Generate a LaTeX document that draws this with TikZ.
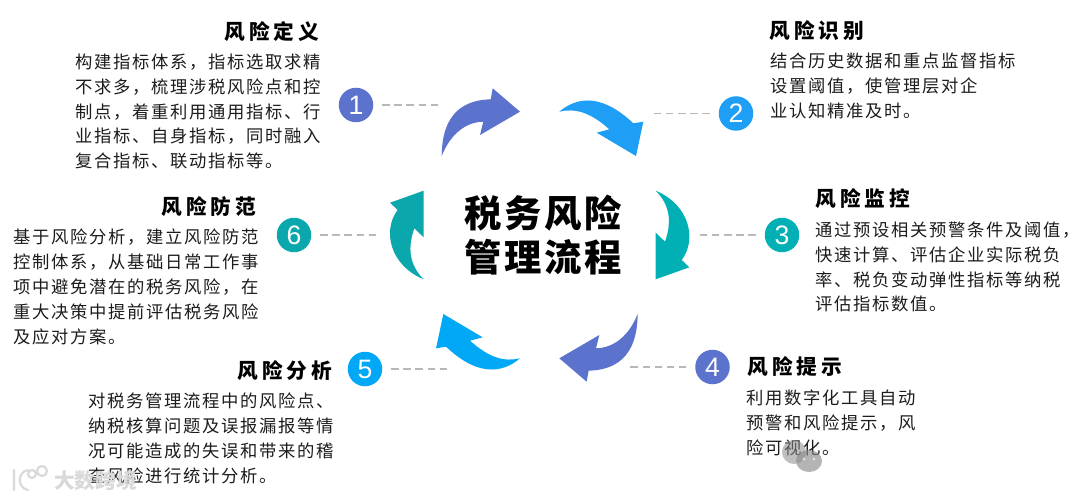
\documentclass[tikz,border=0pt]{standalone}
\usepackage{fontspec}
\setmainfont{Liberation Sans}
\newfontfamily\bodycjk[LetterSpace=9.6]{Noto Sans CJK SC}
\newfontfamily\headcjk[LetterSpace=20]{Noto Sans CJK SC}
\newfontfamily\titlecjk[LetterSpace=7]{Noto Sans CJK SC}
\newfontfamily\markcjk{Noto Sans CJK SC}
\definecolor{cPurple}{HTML}{5B73CC}
\definecolor{cSky}{HTML}{1E9FF5}
\definecolor{cCyan}{HTML}{00A8F5}
\definecolor{cTeal}{HTML}{00B0B5}
\definecolor{cTealB}{HTML}{0AA8AC}
\definecolor{cDash}{HTML}{B8B8B8}
\definecolor{cBody}{HTML}{1C1C1C}
\tikzset{
  numdot/.style={circle,minimum size=34.5*0.75pt,inner sep=0pt,text=white,font=\fontsize{20}{20}\selectfont},
  leader/.style={draw=cDash,line width=0.9pt,dash pattern=on 5.5pt off 3.6pt,shorten <=6.5pt},
  heading/.style={anchor=west,inner sep=0pt,text=black,font=\headcjk\bfseries\fontsize{15.5}{18}\selectfont},
  bodytext/.style={anchor=west,inner sep=0pt,align=left,text=cBody,font=\bodycjk\fontsize{13}{18.7}\selectfont},
  flow/.style={draw=none},
  rot/.style={rotate around={180:(539.67,235)}}
}
\newcommand{\shapeA}{(441.7,156) .. controls (442,112) and (465,100) .. (490.7,99.3) -- (492.7,88.3) -- (520,111.7) -- (480,135) -- (483.3,121.7) .. controls (465,122) and (450,135) .. (441.7,156) -- cycle}
\newcommand{\shapeB}{(559.3,111.7) .. controls (585,90) and (612,103) .. (633.3,123.3) -- (643.3,121.7) -- (636,156) -- (596.7,132.7) -- (609.3,129.3) .. controls (590,112) and (575,108) .. (559.3,111.7) -- cycle}
\newcommand{\shapeC}{(655.7,190.7) .. controls (690,205) and (697,240) .. (681.7,260) -- (689.3,267.3) -- (655.7,279.3) -- (655.7,232.7) -- (665,241.7) .. controls (672,222) and (670,205) .. (655.7,190.7) -- cycle}
\begin{document}
\begin{tikzpicture}[x=0.75pt,y=-0.75pt]
\useasboundingbox (0,0) rectangle (1080,499);
\fill[white] (0,0) rectangle (1080,499);
% flow arrows
\fill[cPurple,flow] \shapeA;
\fill[cSky,flow] \shapeB;
\fill[cTeal,flow] \shapeC;
\fill[cPurple,flow,rot] \shapeA;
\fill[cCyan,flow,rot] \shapeB;
\fill[cTealB,flow,rot] \shapeC;
% centre title
\node[align=center,inner sep=0pt,font=\titlecjk\bfseries\fontsize{28}{33}\selectfont] (title) at (543.5,235) {税务风险\\管理流程};
% number dots
\node[numdot,fill=cPurple] (n1) at (356,105) {1};
\node[numdot,fill=cSky] (n2) at (736,113.5) {2};
\node[numdot,fill=cTeal] (n3) at (782,235) {3};
\node[numdot,fill=cPurple] (n4) at (712.5,367) {4};
\node[numdot,fill=cCyan] (n5) at (365,369) {5};
\node[numdot,fill=cTealB] (n6) at (294,235) {6};
% leader ends
\coordinate (e1) at (438,105);
\coordinate (e2) at (653,113.5);
\coordinate (e3) at (700,235);
\coordinate (e4) at (630,367);
\coordinate (e5) at (447,369);
\coordinate (e6) at (377,235);
\draw[leader] (n1.east) -- (e1);
\draw[leader] (n2.west) -- (e2);
\draw[leader] (n3.west) -- (e3);
\draw[leader] (n4.west) -- (e4);
\draw[leader] (n5.east) -- (e5);
\draw[leader] (n6.east) -- (e6);
% headings
\node[heading] (h1) at (224,32) {风险定义};
\node[heading] (h2) at (769,31) {风险识别};
\node[heading] (h3) at (815,199) {风险监控};
\node[heading] (h4) at (747,367) {风险提示};
\node[heading] (h5) at (237,371) {风险分析};
\node[heading] (h6) at (161,207) {风险防范};
% bodies
\node[bodytext] (b1) at (75,111.5) {构建指标体系，指标选取求精\\不求多，梳理涉税风险点和控\\制点，着重利用通用指标、行\\业指标、自身指标，同时融入\\复合指标、联动指标等。};
\node[bodytext] (b2) at (770,86) {结合历史数据和重点监督指标\\设置阈值，使管理层对企\\业认知精准及时。};
\node[bodytext] (b3) at (815,267) {通过预设相关预警条件及阈值，\\快速计算、评估企业实际税负\\率、税负变动弹性指标等纳税\\评估指标数值。};
\node[bodytext] (b4) at (746,423) {利用数字化工具自动\\预警和风险提示，风\\险可视化。};
\node[bodytext] (b5) at (88,438) {对税务管理流程中的风险点、\\纳税核算问题及误报漏报等情\\况可能造成的失误和带来的稽\\查风险进行统计分析。};
\node[bodytext] (b6) at (13,287) {基于风险分析，建立风险防范\\控制体系，从基础日常工作事\\项中避免潜在的税务风险，在\\重大决策中提前评估税务风险\\及应对方案。};
% watermark
\fill[black!45,opacity=.55] (794,452) ellipse (12 and 12);
\fill[black!45,opacity=.65] (809,461) ellipse (13 and 11);
\fill[white,opacity=.6] (804,459) circle (1.6) (814,459) circle (1.6);
\node[inner sep=0pt,anchor=west,text=black!15,font=\markcjk\bfseries\fontsize{15.5}{18}\selectfont] (wm) at (54,481) {大数跨境};
\draw[black!15,line width=1.6pt,line cap=round] (14,470) -- (14,490) (28,470) .. controls (17,472) and (17,488) .. (28,490) (32,474) circle (4) (42,471) circle (5);
\end{tikzpicture}
\end{document}
